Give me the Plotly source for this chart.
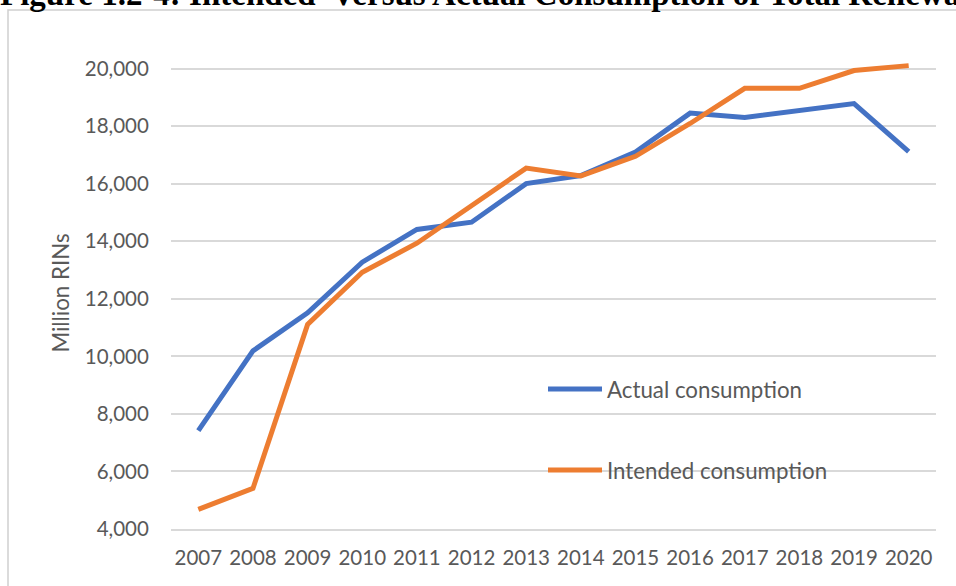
import plotly.graph_objects as go

years = ["2007", "2008", "2009", "2010", "2011", "2012", "2013",
         "2014", "2015", "2016", "2017", "2018", "2019", "2020"]
actual = [7420, 10190, 11510, 13270, 14410, 14660, 16000,
          16280, 17100, 18450, 18300, 18560, 18780, 17110]
intended = [4680, 5410, 11110, 12920, 13930, 15210, 16540,
            16270, 16950, 18090, 19310, 19310, 19930, 20100]
y_ticks = [4000, 6000, 8000, 10000, 12000, 14000, 16000, 18000, 20000]

title_text = "Figure 1.2-4: Intended  Versus Actual Consumption of Total Renewable Fuel"
BLUE = "#4472C4"
ORANGE = "#ED7D31"
GREY_TXT = "#595959"
GRID = "#d9d9d9"
FONT = "Lato"
FS = 20.5
FS_TXT = 22.3

fig = go.Figure()
fig.add_trace(go.Scatter(x=years, y=actual, mode="lines", name="Actual consumption",
                         line=dict(color=BLUE, width=5), legend="legend"))
fig.add_trace(go.Scatter(x=years, y=intended, mode="lines", name="Intended consumption",
                         line=dict(color=ORANGE, width=5), legend="legend2"))

W, H = 956, 586
L, R, T, B = 171, 20, 57, 57
pw, ph = W - L - R, H - T - B

def px2x(px):
    return (px - L) / pw

def py2y(py):
    return (H - B - py) / ph

leg_common = dict(bgcolor="rgba(0,0,0,0)", borderwidth=0, xanchor="left", yanchor="middle",
                  font=dict(family=FONT, size=FS_TXT, color=GREY_TXT), itemwidth=54)
fig.update_layout(
    width=W, height=H,
    margin=dict(l=L, r=R, t=T, b=B),
    paper_bgcolor="white", plot_bgcolor="white",
    showlegend=True,
    legend=dict(x=px2x(543), y=py2y(389), **leg_common),
    legend2=dict(x=px2x(543), y=py2y(470), **leg_common),
    xaxis=dict(type="category", range=[-0.5, len(years) - 0.5],
               showgrid=False, showline=True, linecolor=GRID, linewidth=1.5,
               ticks="outside", ticklen=10, tickcolor="rgba(0,0,0,0)",
               tickfont=dict(family=FONT, size=FS, color=GREY_TXT)),
    yaxis=dict(range=[4000, 20400], tickvals=y_ticks,
               ticktext=[f"{v:,}" for v in y_ticks],
               showgrid=True, gridcolor=GRID, gridwidth=1.5, zeroline=False,
               ticks="outside", ticklen=17, tickcolor="rgba(0,0,0,0)",
               tickfont=dict(family=FONT, size=FS, color=GREY_TXT),
               title=dict(text="Million RINs", standoff=8,
                          font=dict(family=FONT, size=FS_TXT, color=GREY_TXT))),
    shapes=[dict(type="rect", xref="paper", yref="paper",
                 x0=px2x(8), x1=px2x(1000), y0=py2y(640), y1=py2y(10),
                 line=dict(color="#d0d0d0", width=1.5), fillcolor="rgba(0,0,0,0)", layer="below")],
    annotations=[dict(text="<b>" + title_text + "</b>", xref="paper", yref="paper",
                      x=px2x(-2), y=py2y(14), xanchor="left", yanchor="bottom",
                      showarrow=False, font=dict(family="Liberation Serif", size=33, color="black"))],
)

fig.write_html("out.html", config={"displayModeBar": False},
               post_script="document.body.style.margin='0';document.body.style.overflow='hidden';")
